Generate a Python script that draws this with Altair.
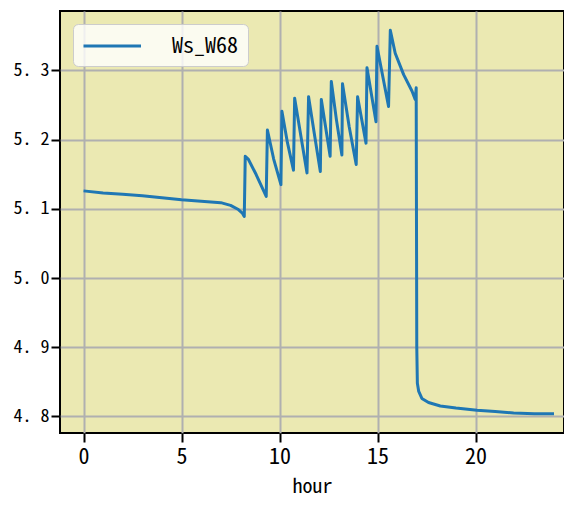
import altair as alt
import pandas as pd

series_name = "Ws_W68"

hours = [0, 1, 2, 3, 4, 5, 6, 7, 7.5, 7.9, 8.1, 8.2,
         8.25, 8.4, 8.8, 9.32,
         9.38, 9.7, 10.07,
         10.12, 10.4, 10.71,
         10.77, 11.1, 11.40,
         11.48, 11.8, 12.08,
         12.13, 12.58,
         12.64, 12.9, 13.18,
         13.21, 13.55, 13.91,
         13.98, 14.41,
         14.46, 14.92,
         14.97, 15.56,
         15.65, 15.9, 16.33, 16.76, 16.92,
         16.97, 17.0, 17.03, 17.1, 17.26, 17.6, 18.2, 19.0, 20.07, 21.0, 21.94, 23.0, 24.0]

values = [5.126, 5.123, 5.121, 5.119, 5.116, 5.113, 5.111, 5.109, 5.105, 5.099, 5.094, 5.089,
          5.176, 5.172, 5.150, 5.118,
          5.214, 5.172, 5.135,
          5.241, 5.196, 5.156,
          5.260, 5.203, 5.152,
          5.262, 5.204, 5.154,
          5.258, 5.176,
          5.284, 5.229, 5.178,
          5.281, 5.219, 5.164,
          5.262, 5.195,
          5.304, 5.226,
          5.335, 5.248,
          5.358, 5.325, 5.294, 5.270, 5.258,
          5.275, 4.900, 4.848, 4.836, 4.826, 4.820, 4.815, 4.812, 4.809, 4.807, 4.805, 4.804, 4.804]

x_ticks = [0, 5, 10, 15, 20, 25]
y_ticks = [4.8, 4.9, 5.0, 5.1, 5.2, 5.3]

df = pd.DataFrame({"hour": hours, "value": values, "series": [series_name] * len(hours)})

MONO = "Noto Sans Mono CJK JP, DejaVu Sans Mono"

chart = alt.Chart(df).mark_line(strokeWidth=3, strokeJoin="round", clip=True).encode(
    x=alt.X("hour:Q",
            scale=alt.Scale(domain=[-1.2, 24.51], nice=False, zero=False),
            axis=alt.Axis(values=x_ticks, title="hour", labelFontSize=22,
                          titleFontSize=20, titlePadding=9, labelPadding=4,
                          labelFlush=False)),
    y=alt.Y("value:Q",
            scale=alt.Scale(domain=[4.776, 5.386], nice=False, zero=False),
            axis=alt.Axis(values=y_ticks, title=None, labelFontSize=18,
                          labelExpr="replace(format(datum.value, '.1f'), '.', '. ')",
                          labelPadding=2)),
    color=alt.Color("series:N",
                    scale=alt.Scale(domain=[series_name], range=["#1f77b4"]),
                    legend=alt.Legend(title=None, orient="none", legendX=13, legendY=13,
                                      symbolType="M -1 0 L 4 0", symbolSize=529,
                                      symbolStrokeWidth=3, labelFontSize=22,
                                      labelFont=MONO, labelOffset=64,
                                      padding=9, fillColor="rgba(255,255,255,0.8)",
                                      strokeColor="#cccccc", cornerRadius=5)),
).properties(
    width=504,
    height=422,
    autosize=alt.AutoSizeParams(type="none"),
    padding={"left": 52, "top": 3, "right": 0, "bottom": 66},
    background="white",
).configure_view(
    fill="#EBE9B2",
    stroke="black",
    strokeWidth=2,
).configure_axis(
    labelFont=MONO,
    titleFont=MONO,
    labelColor="black",
    titleColor="black",
    titleFontWeight="normal",
    domain=False,
    grid=True,
    gridColor="#b0b0b0",
    gridWidth=2,
    tickColor="black",
    tickWidth=2,
    tickSize=9,
)

chart.save("out.html", embed_options={"renderer": "svg", "actions": False})
